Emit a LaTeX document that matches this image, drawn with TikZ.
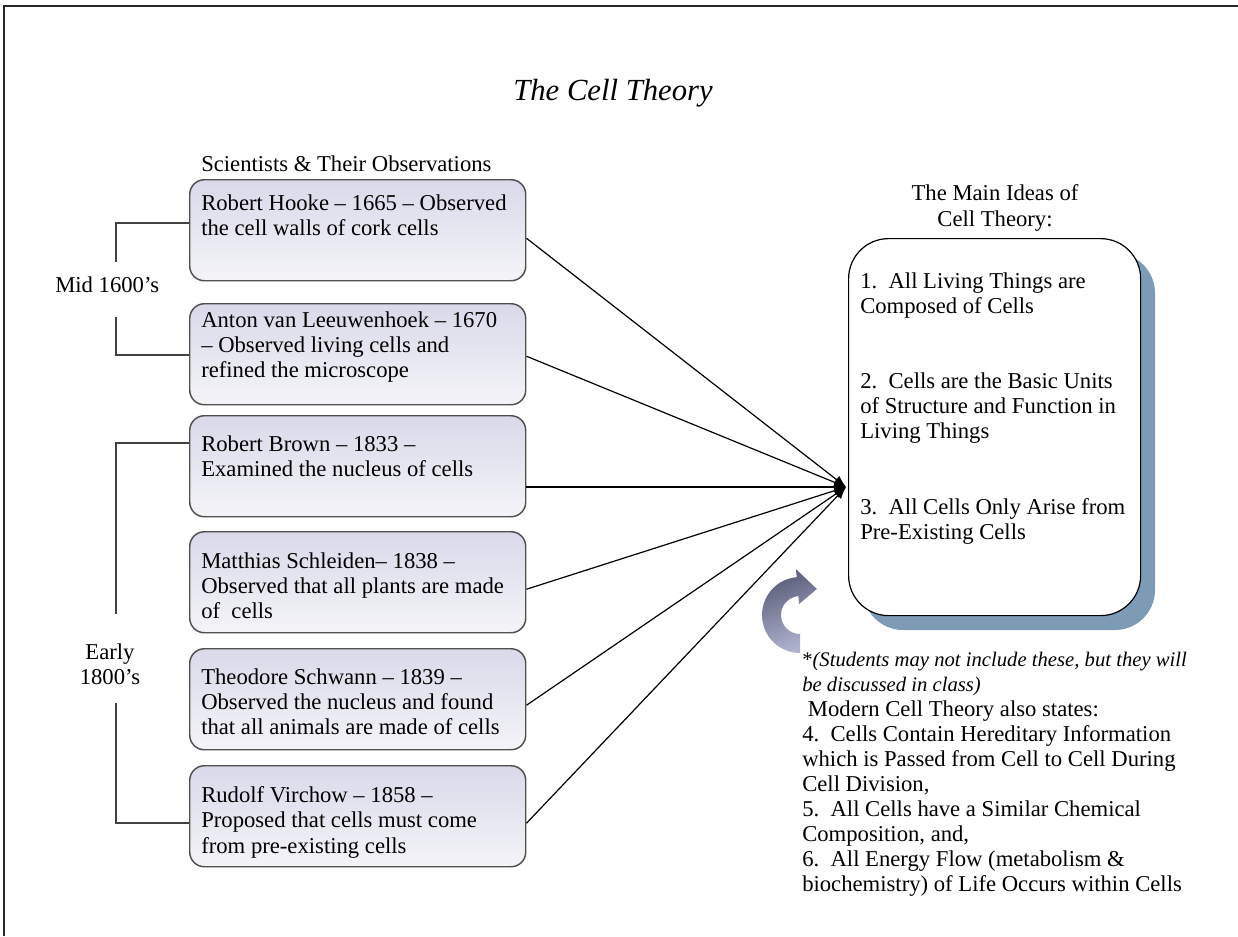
\documentclass[tikz,border=0pt]{standalone}
\usepackage{fontspec}
\setmainfont{Liberation Serif}
\usetikzlibrary{arrows.meta,calc}
\definecolor{lavtop}{HTML}{D9D9EA}
\definecolor{lavbot}{HTML}{F4F4F8}
\definecolor{boxline}{HTML}{505050}
\definecolor{shadowblue}{HTML}{7E9BB5}
\definecolor{cdark}{HTML}{5A5D78}
\definecolor{clight}{HTML}{B0B3D0}
\definecolor{brk}{HTML}{404040}
\begin{document}
\begin{tikzpicture}[x=0.75pt,y=-0.75pt,
  bodyfont/.style={font=\fontsize{17}{19.1}\selectfont},
  scibox/.style={draw=boxline, line width=1.1pt, rounded corners=11pt,
    top color=lavtop, bottom color=lavbot, anchor=north west,
    minimum width=252pt, minimum height=75.75pt, inner sep=0pt},
  scitext/.style={bodyfont, anchor=north west, align=left, inner sep=0pt},
  conn/.style={draw=black, line width=0.9pt, -{Latex[length=9pt,width=7pt]}},
  bracketline/.style={draw=brk, line width=1pt}]
\useasboundingbox (0,0) rectangle (1238,936);
% page border
\draw[line width=1.6pt, draw=black!85] (4,936) -- (4,6) -- (1238,6);

% title
\node[font=\fontsize{23}{26}\selectfont\itshape] (title) at (613,93) {The Cell Theory};

\node[bodyfont, anchor=west, inner sep=0pt] (scihead) at (201,164) {Scientists \& Their Observations};

% scientist boxes
\node[scibox] (b1) at (189,179) {};
\node[scibox] (b2) at (189,303) {};
\node[scibox] (b3) at (189,415) {};
\node[scibox] (b4) at (189,531) {};
\node[scibox] (b5) at (189,648) {};
\node[scibox] (b6) at (189,765) {};

\node[scitext] (t1) at (201,194) {Robert Hooke – 1665 – Observed\\the cell walls of cork cells};
\node[scitext] (t2) at (201,311) {Anton van Leeuwenhoek – 1670\\– Observed living cells and\\refined the microscope};
\node[scitext] (t3) at (201,435) {Robert Brown – 1833 –\\Examined the nucleus of cells};
\node[scitext] (t4) at (201,552) {Matthias Schleiden– 1838 –\\Observed that all plants are made\\of\ \ cells};
\node[scitext] (t5) at (201,668) {Theodore Schwann – 1839 –\\Observed the nucleus and found\\that all animals are made of cells};
\node[scitext] (t6) at (201,786) {Rudolf Virchow – 1858 –\\Proposed that cells must come\\from pre-existing cells};

% era labels and brackets
\node[bodyfont, anchor=west, inner sep=0pt] (mid) at (55,285) {Mid 1600’s};
\node[bodyfont, align=center, inner sep=0pt] (early) at (110,664) {Early\\1800’s};

\coordinate (m1) at (189,223);
\coordinate (m2) at (189,355);
\coordinate (m1s) at (116,262);
\coordinate (m2s) at (116,317);
\coordinate (e1) at (189,443);
\coordinate (e2) at (189,823);
\coordinate (e1s) at (116,614);
\coordinate (e2s) at (116,703);
\draw[bracketline] (m1s) |- (m1);
\draw[bracketline] (m2s) |- (m2);
\draw[bracketline] (e1s) |- (e1);
\draw[bracketline] (e2s) |- (e2);

% main ideas box
\node[font=\fontsize{17}{19.5}\selectfont, align=center, inner sep=0pt] (ideashead) at (995,208) {The Main Ideas of\\Cell Theory:};
\fill[shadowblue, rounded corners=30pt] (863,253) rectangle (1155,630);
\node[draw=black, line width=0.9pt, fill=white, rounded corners=30pt, anchor=north west,
  minimum width=219pt, minimum height=282.75pt, inner sep=0pt] (ideas) at (848,238) {};
\node[scitext] (i1) at (860,272) {1.\ \ All Living Things are\\Composed of Cells};
\node[scitext] (i2) at (860,372) {2.\ \ Cells are the Basic Units\\of Structure and Function in\\Living Things};
\node[scitext] (i3) at (860,498) {3.\ \ All Cells Only Arise from\\Pre-Existing Cells};

% connectors
\coordinate (hub) at (846,487);
\draw[conn] ($(b1.east)+(0,8)$) -- (hub);
\draw[conn] ($(b2.east)+(0,2)$) -- (hub);
\draw[conn] (b3.east |- hub) -- (hub);
\draw[conn] ($(b4.east)+(0,7)$) -- (hub);
\draw[conn] ($(b5.east)+(0,6)$) -- (hub);
\draw[conn] ($(b6.east)+(0,7)$) -- (hub);

% curved arrow
\coordinate (ca) at (800,615);
\shade[top color=cdark, bottom color=clight, shading angle=20]
  ($(ca)+(90:38)$) arc[start angle=90, end angle=265, radius=38]
  -- ($(ca)+(265:46)$) -- ($(ca)+(303:31)$) -- ($(ca)+(265:11)$)
  -- ($(ca)+(265:19)$) arc[start angle=265, end angle=90, radius=19] -- cycle;

% modern theory text
\node[scitext, font=\fontsize{17}{18.75}\selectfont] (modern) at (802,652) {{\fontsize{15.5}{18.75}\selectfont *\textit{(Students may not include these, but they will}}\\{\fontsize{15.5}{18.75}\selectfont\textit{be discussed in class)}}\\\ Modern Cell Theory also states:\\4.\ \ Cells Contain Hereditary Information\\which is Passed from Cell to Cell During\\Cell Division,\\5.\ \ All Cells have a Similar Chemical\\Composition, and,\\6.\ \ All Energy Flow (metabolism \&\\biochemistry) of Life Occurs within Cells};
\end{tikzpicture}
\end{document}
